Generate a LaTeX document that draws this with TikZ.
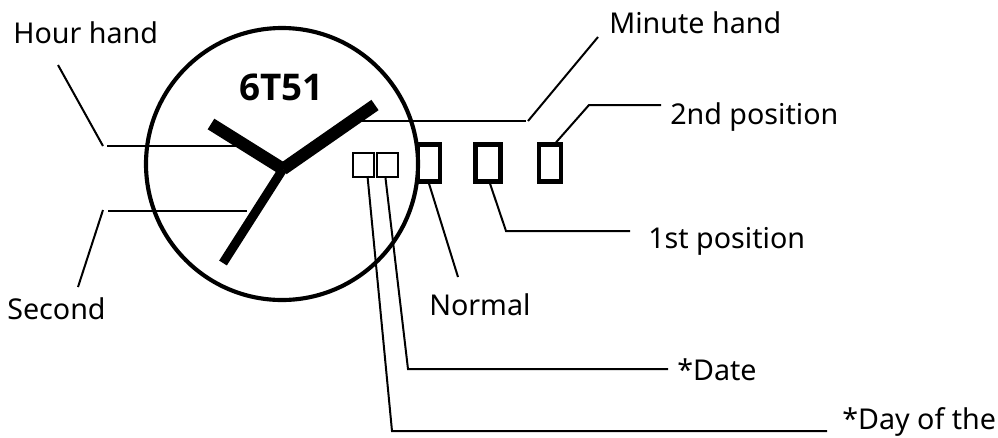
\documentclass[tikz,border=0pt]{standalone}
\usepackage{fontspec}
\setmainfont{Noto Sans}
\newfontfamily\titlefont{Open Sans}
\begin{document}
\begin{tikzpicture}[x=0.75pt,y=-0.75pt,
  lead/.style={draw=black,line width=1.5pt,line join=miter},
  dial/.style={draw=black,line width=3.1pt},
  crownpos/.style={draw=black,line width=3.1pt},
  datebox/.style={draw=black,line width=1.6pt},
  thickhand/.style={draw=black,line width=9.4pt},
  thinhand/.style={draw=black,line width=6.8pt},
  lbl/.style={inner sep=0pt,anchor=base west,font=\fontsize{21.5pt}{24pt}\selectfont},
  title/.style={inner sep=0pt,anchor=base west,font=\fontsize{27.6pt}{30pt}\selectfont\titlefont\bfseries}]
\useasboundingbox (0,0) rectangle (998,437);
\fill[white] (0,0) rectangle (998,437);
\node[dial,circle,minimum size=272*0.75pt,inner sep=0pt] (watch) at (282,164) {};
\coordinate (hub) at (283,169);
\coordinate (hourtip) at (211,124);
\coordinate (mintip) at (375,105);
\coordinate (sectip) at (223,263);
\draw[thickhand] (hourtip) -- (hub);
\draw[thickhand] (mintip) -- (hub);
\draw[thinhand] (sectip) -- (hub);
\node[title] (model) at (239,100) {6T51};
\node[lbl] (hourlbl) at (13,43) {Hour hand};
\node[lbl] (minlbl) at (609,33) {Minute hand};
\node[lbl] (seclbl) at (7,319) {Second};
\node[lbl] (normlbl) at (429,315) {Normal};
\node[lbl] (firstlbl) at (648,248) {1st position};
\node[lbl] (secondlbl) at (670,124) {2nd position};
\node[lbl] (datelbl) at (677,380) {*Date};
\node[lbl] (daylbl) at (842,429) {*Day of the};
\node[datebox,minimum width=21*0.75pt,minimum height=24*0.75pt,inner sep=0pt] (daybox) at (363.5,165) {};
\node[datebox,minimum width=21*0.75pt,minimum height=24*0.75pt,inner sep=0pt] (datebox) at (387.5,165) {};
\node[crownpos,minimum width=22*0.75pt,minimum height=37*0.75pt,inner sep=0pt] (normbox) at (429,163) {};
\node[crownpos,minimum width=25*0.75pt,minimum height=37*0.75pt,inner sep=0pt] (firstbox) at (488,163) {};
\node[crownpos,minimum width=22*0.75pt,minimum height=37*0.75pt,inner sep=0pt] (secondbox) at (550,163) {};
\coordinate (h1) at (58,65); \coordinate (h2) at (103,146); \coordinate (h2b) at (107,146); \coordinate (h3) at (238,146);
\draw[lead] (h1) -- (h2);
\draw[lead] (h2b) -- (h3);
\coordinate (s1) at (78,287); \coordinate (s2) at (103,210); \coordinate (s2b) at (108,211); \coordinate (s3) at (247,211);
\draw[lead] (s1) -- (s2);
\draw[lead] (s2b) -- (s3);
\coordinate (m1) at (361,121); \coordinate (m2) at (526,121); \coordinate (m2b) at (528,121); \coordinate (m3) at (598,37);
\draw[lead] (m1) -- (m2);
\draw[lead] (m2b) -- (m3);
\coordinate (c2a) at (589,105); \coordinate (c2b) at (661,105);
\draw[lead] (secondbox.north) ++(6,0) -- (c2a) -- (c2b);
\coordinate (c1a) at (506,231); \coordinate (c1b) at (630,231);
\draw[lead] (firstbox.south) ++(2,0) -- (c1a) -- (c1b);
\coordinate (c0) at (458,277);
\draw[lead] (normbox.south) -- (c0);
\coordinate (d1) at (408,369); \coordinate (d2) at (668,369);
\draw[lead] (datebox.south) ++(-2,0) -- (d1) -- (d2);
\coordinate (w1) at (392,431); \coordinate (w2) at (827,431);
\draw[lead] (daybox.south) ++(4,-2) -- (w1) -- (w2);
\end{tikzpicture}
\end{document}
